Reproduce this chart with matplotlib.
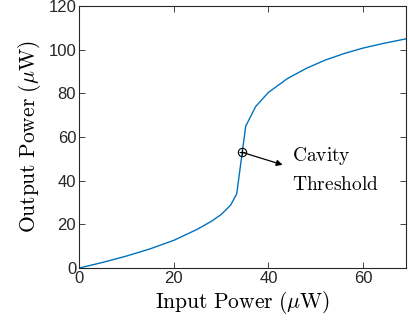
import matplotlib
matplotlib.use("Agg")
import matplotlib.pyplot as plt

plt.rcParams['mathtext.fontset'] = 'cm'
plt.rcParams['font.family'] = ['Liberation Sans', 'DejaVu Sans']

input_power = [0, 5, 10, 15, 20, 25, 28, 30, 32, 33.3, 35.2, 37.3, 40, 44, 48, 52, 56, 60, 64, 69]
output_power = [0, 2.6, 5.5, 8.8, 12.7, 17.8, 21.5, 24.5, 28.8, 34, 65, 74, 80.5, 86.8, 91.5, 95.3, 98.3, 100.8, 102.8, 105]
threshold_x = [34.5]
threshold_y = [53]
xticks = [0, 20, 40, 60]
yticks = [0, 20, 40, 60, 80, 100, 120]

fig = plt.figure(figsize=(4.08, 3.23), dpi=100)
ax = fig.add_axes([0.1936, 0.170, 0.801, 0.811])
ax.plot(input_power, output_power, color='#0072BD', lw=1.0)
ax.plot(threshold_x, threshold_y, 'o', mfc='none', mec='black', ms=6, mew=0.8)
ax.plot(threshold_x, threshold_y, '+', color='black', ms=5, mew=0.8)
ax.annotate('', xy=(43, 47.3), xytext=(threshold_x[0], threshold_y[0]),
            arrowprops=dict(arrowstyle='-|>', color='black', lw=0.9,
                            mutation_scale=9, shrinkA=0, shrinkB=0))
ax.text(45, 51.5, r'$\mathrm{Cavity}$', fontsize=14, va='center', ha='left')
ax.text(45, 38, r'$\mathrm{Threshold}$', fontsize=14, va='center', ha='left')

ax.set_xlim(0, 69)
ax.set_ylim(0, 120)
ax.set_xticks(xticks)
ax.set_yticks(yticks)
ax.tick_params(direction='in', length=4, width=0.6, colors='#262626',
               labelsize=12, top=True, right=True, pad=2)
for s in ax.spines.values():
    s.set_color('#262626')
    s.set_linewidth(0.8)
ax.set_xlabel(r'$\mathrm{Input\ Power\ (}\mu\mathrm{W)}$', fontsize=15.5, labelpad=2)
ax.set_ylabel(r'$\mathrm{Output\ Power\ (}\mu\mathrm{W)}$', fontsize=15.5, labelpad=4)

fig.savefig('out.png', dpi=100)
